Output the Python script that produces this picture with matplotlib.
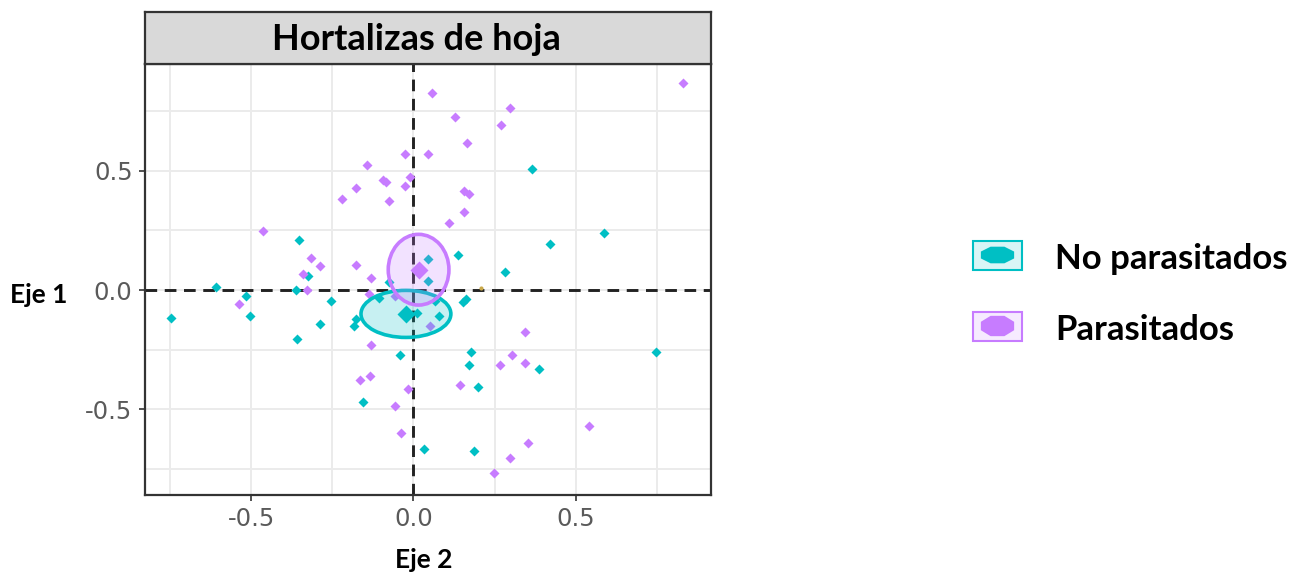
import numpy as np
import matplotlib
matplotlib.use("Agg")
import matplotlib.pyplot as plt
from matplotlib.patches import Ellipse, Rectangle, Polygon

plt.rcParams["axes.unicode_minus"] = False

# Individual scores on the two axes
no_par_x = [-0.353, -0.325, -0.363, -0.609, -0.517, -0.748, -0.505, -0.253, -0.289,
            -0.358, -0.177, -0.182, -0.105, -0.074, -0.040, -0.156, 0.032, 0.046,
            0.044, 0.136, 0.283, 0.068, 0.162, 0.152, 0.010, 0.080, 0.365, 0.588,
            0.422, 0.177, 0.170, 0.388, 0.749, 0.199, 0.186]
no_par_y = [0.208, 0.060, 0.001, 0.011, -0.024, -0.117, -0.107, -0.044, -0.142,
            -0.204, -0.120, -0.151, -0.035, 0.032, -0.270, -0.468, -0.667, 0.129,
            0.036, 0.148, 0.074, -0.047, -0.037, -0.051, -0.097, -0.107, 0.508, 0.238,
            0.192, -0.260, -0.315, -0.332, -0.260, -0.404, -0.675]

par_x = [0.057, 0.298, 0.129, 0.270, 0.831, 0.164, 0.046, -0.025, -0.142, -0.094,
         -0.084, -0.010, -0.025, -0.178, -0.219, -0.074, 0.157, 0.170, 0.157, 0.109,
         -0.464, -0.317, -0.289, -0.178, -0.340, -0.130, -0.327, -0.538, -0.137,
         -0.057, 0.052, -0.130, -0.163, -0.134, -0.017, -0.058, -0.038, 0.345, 0.304,
         0.268, 0.345, 0.144, 0.540, 0.353, 0.298, 0.248]
par_y = [0.824, 0.761, 0.726, 0.689, 0.868, 0.615, 0.570, 0.570, 0.525, 0.462,
         0.451, 0.474, 0.436, 0.428, 0.382, 0.372, 0.414, 0.400, 0.326, 0.282,
         0.246, 0.136, 0.101, 0.106, 0.065, 0.050, 0.001, -0.058, -0.016,
         -0.025, -0.151, -0.232, -0.375, -0.360, -0.415, -0.485, -0.600, -0.176, -0.271,
         -0.315, -0.305, -0.396, -0.568, -0.639, -0.704, -0.767]

other_x = [0.208]
other_y = [0.007]

# Group centroids and confidence ellipses (centre, full width, full height)
centroid_x = {"No parasitados": -0.023, "Parasitados": 0.016}
centroid_y = {"No parasitados": -0.100, "Parasitados": 0.085}
ellipse_w = {"No parasitados": 0.277, "Parasitados": 0.187}
ellipse_h = {"No parasitados": 0.197, "Parasitados": 0.296}

groups = ["No parasitados", "Parasitados"]
colors = {"No parasitados": "#00BFC4", "Parasitados": "#C77CFF"}

x_major = [-0.5, 0.0, 0.5]
x_minor = [-0.75, -0.25, 0.25, 0.75]
y_major = [-0.5, 0.0, 0.5]
y_minor = [-0.75, -0.25, 0.25, 0.75]
tick_labels = ["-0.5", "0.0", "0.5"]

W, H = 1296, 575
fig = plt.figure(figsize=(W / 100, H / 100), dpi=100)

# panel
px_l, px_r, px_t, px_b = 145, 711, 64, 495
ax = fig.add_axes([px_l / W, 1 - px_b / H, (px_r - px_l) / W, (px_b - px_t) / H])
ax.set_xlim(-0.827, 0.917)
ax.set_ylim(-0.858, 0.946)
ax.set_facecolor("white")
ax.set_xticks(x_major)
ax.set_xticks(x_minor, minor=True)
ax.set_yticks(y_major)
ax.set_yticks(y_minor, minor=True)
ax.set_xticklabels(tick_labels)
ax.set_yticklabels(tick_labels)
ax.grid(True, which="both", color="#EBEBEB", linewidth=1.4, zorder=0)
ax.set_axisbelow(True)
ax.tick_params(which="major", length=4, width=1.2, color="#333333",
               labelsize=17.5, labelcolor="#5A5A5A", pad=5)
ax.tick_params(which="minor", length=0)
for lab in ax.get_xticklabels() + ax.get_yticklabels():
    lab.set_family("DejaVu Sans")
for sp in ax.spines.values():
    sp.set_color("#333333")
    sp.set_linewidth(1.6)

ax.axhline(0, color="#222222", linestyle=(0, (4, 2.6)), linewidth=2.1, zorder=2)
ax.axvline(0, color="#222222", linestyle=(0, (4, 2.6)), linewidth=2.1, zorder=2)

ax.plot(no_par_x, no_par_y, "D", color=colors["No parasitados"], ms=5.5, mec="none", zorder=3)
ax.plot(par_x, par_y, "D", color=colors["Parasitados"], ms=5.5, mec="none", zorder=3)
ax.plot(other_x, other_y, "o", color="#C9A84A", ms=3, mec="none", zorder=3)

for g in groups:
    c = colors[g]
    ax.add_patch(Ellipse((centroid_x[g], centroid_y[g]), ellipse_w[g], ellipse_h[g],
                         facecolor=c, alpha=0.22, edgecolor="none", zorder=4))
    ax.add_patch(Ellipse((centroid_x[g], centroid_y[g]), ellipse_w[g], ellipse_h[g],
                         facecolor="none", edgecolor=c, linewidth=2.6, zorder=4))
    ax.plot([centroid_x[g]], [centroid_y[g]], "D", color=c, ms=9, mec="none", zorder=5)

# facet strip
st_t = 12
sax = fig.add_axes([px_l / W, 1 - px_t / H, (px_r - px_l) / W, (px_t - st_t) / H])
sax.set_facecolor("#D9D9D9")
sax.set_xticks([])
sax.set_yticks([])
for sp in sax.spines.values():
    sp.set_color("#333333")
    sp.set_linewidth(1.6)
sax.text(0.479, 0.47, "Hortalizas de hoja", ha="center", va="center",
         fontsize=26, fontweight="bold", family="Lato", color="black",
         transform=sax.transAxes)

# overlay in pixel coordinates for axis titles and legend
oax = fig.add_axes([0, 0, 1, 1], zorder=-1)
oax.set_xlim(0, W)
oax.set_ylim(H, 0)
oax.axis("off")
oax.patch.set_alpha(0)

oax.text(39, 295, "Eje 1", ha="center", va="center", fontsize=19,
         fontweight="bold", family="Lato", color="black")
oax.text(424, 560, "Eje 2", ha="center", va="center", fontsize=19,
         fontweight="bold", family="Lato", color="black")


def octagon(cx, cy, a, b):
    ang = np.deg2rad(22.5 + 45 * np.arange(8))
    return np.column_stack([cx + a * np.cos(ang), cy + b * np.sin(ang)])


legend_rows = [(255, 18), (326, 22)]
for g, (cy, oh) in zip(groups, legend_rows):
    c = colors[g]
    oax.add_patch(Rectangle((973, cy - 14.5), 49, 29, facecolor=c, alpha=0.15,
                            edgecolor="none"))
    oax.add_patch(Rectangle((973, cy - 14.5), 49, 29, facecolor="none",
                            edgecolor=c, linewidth=1.5))
    oax.add_patch(Polygon(octagon(997.5, cy, 18, oh / 2), closed=True,
                          facecolor=c, edgecolor="none"))
    oax.text(1055, cy + 4, g, ha="left", va="center", fontsize=25,
             fontweight="bold", family="Lato", color="black")

fig.savefig("out.png", dpi=100)
